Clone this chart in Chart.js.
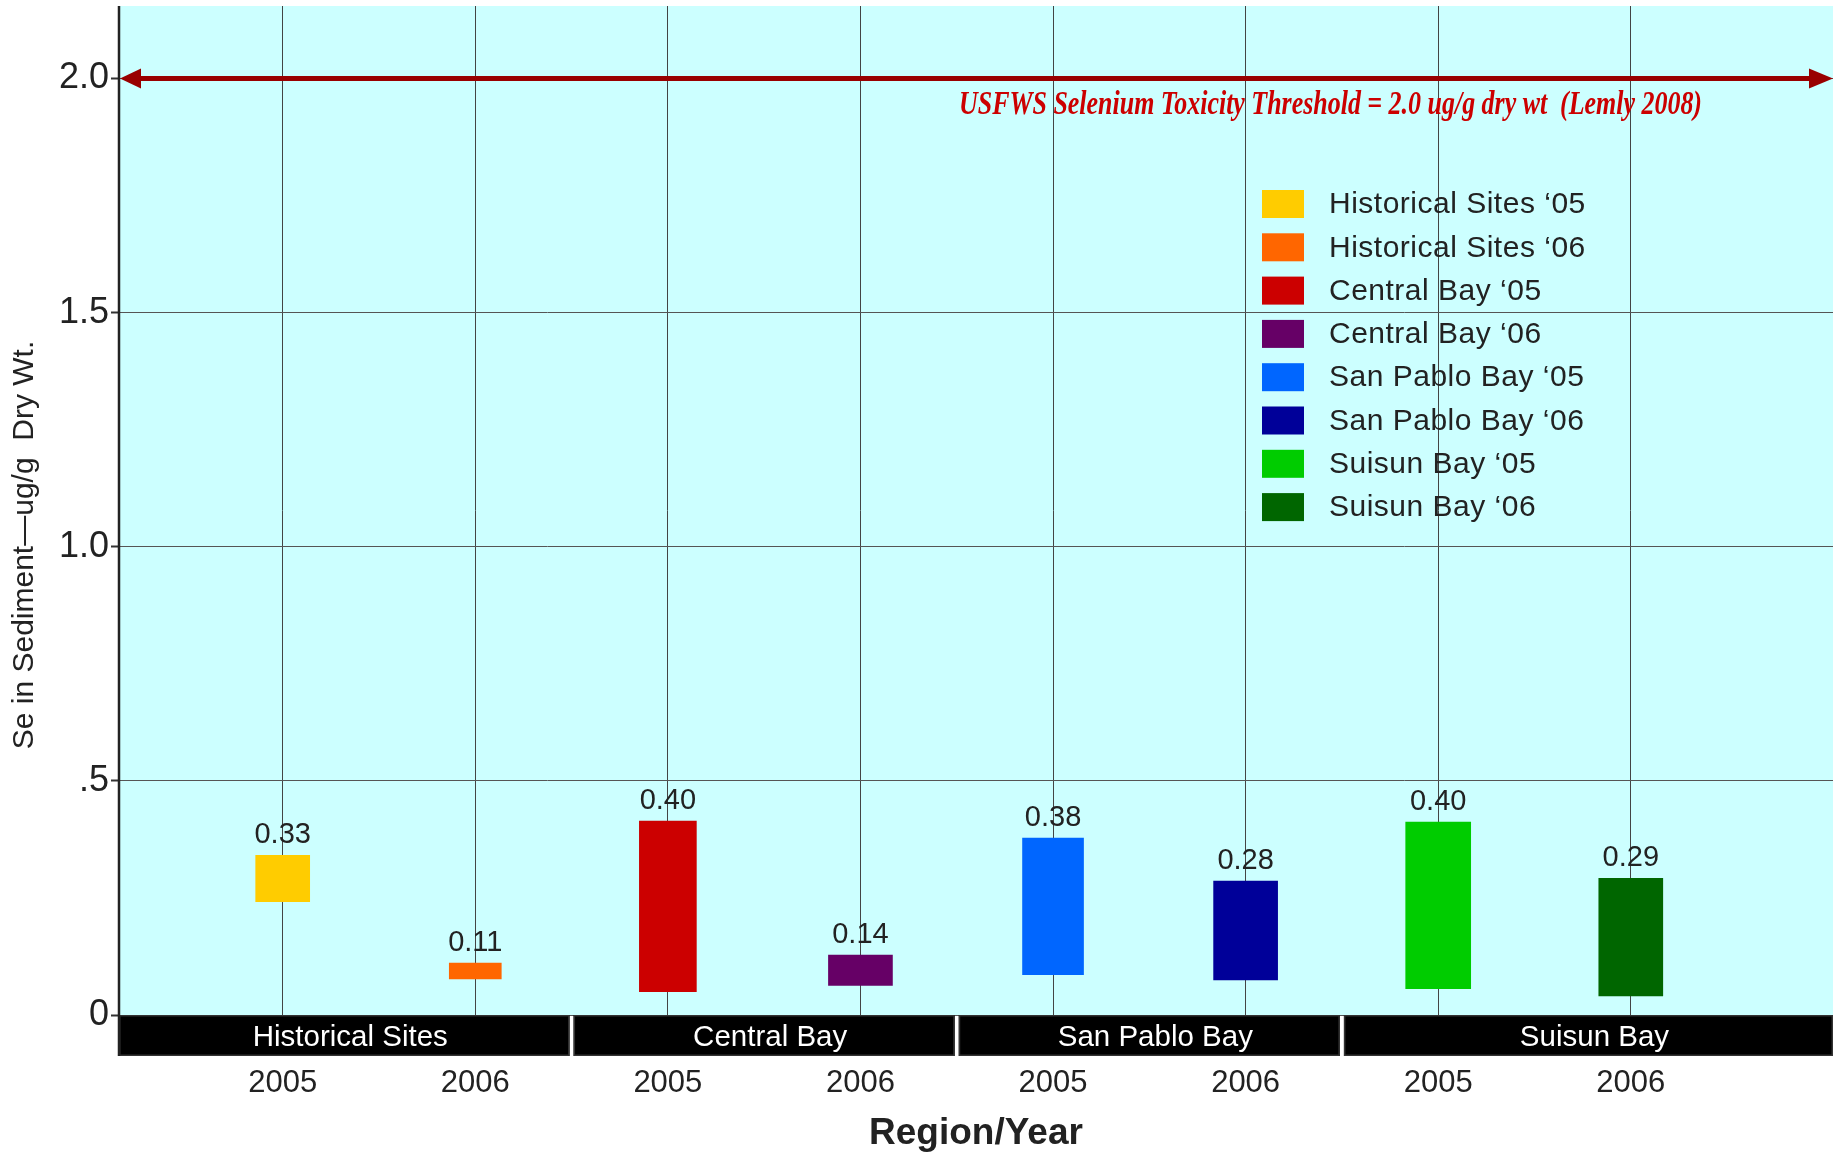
<!DOCTYPE html>
<html>
<head>
<meta charset="utf-8">
<title>Se in Sediment by Region/Year</title>
<script src="https://cdn.jsdelivr.net/npm/chart.js@4.4.1/dist/chart.umd.min.js"></script>
<style>
  html, body { margin: 0; padding: 0; background: #fff; }
</style>
</head>
<body>
<canvas id="seChart" width="1839" height="1152"></canvas>
<script>
// ---- data ----
const seriesNames = [
  "Historical Sites \u201805", "Historical Sites \u201806",
  "Central Bay \u201805", "Central Bay \u201806",
  "San Pablo Bay \u201805", "San Pablo Bay \u201806",
  "Suisun Bay \u201805", "Suisun Bay \u201806"
];
const years = ["2005", "2006", "2005", "2006", "2005", "2006", "2005", "2006"];
const regions = ["Historical Sites", "Central Bay", "San Pablo Bay", "Suisun Bay"];
const xPos = [1, 2, 3, 4, 5, 6, 7, 8];
const regionBreaks = [2.5, 4.5, 6.5];
// floating bars: low / high end of each bar
const barLow = [0.242, 0.077, 0.050, 0.063, 0.086, 0.075, 0.056, 0.041];
const barHigh = [0.341, 0.111, 0.414, 0.128, 0.378, 0.286, 0.412, 0.292];
const valueLabels = ["0.33", "0.11", "0.40", "0.14", "0.38", "0.28", "0.40", "0.29"];
const yTicks = [0, 0.5, 1.0, 1.5, 2.0];
const yTickLabels = ["0", ".5", "1.0", "1.5", "2.0"];
const threshold = 2.0;
const thresholdText = "USFWS Selenium Toxicity Threshold = 2.0 ug/g dry wt  (Lemly 2008)";

// ---- style ----
const colors = ["#ffcc00", "#ff6600", "#cc0000", "#660066", "#0066ff", "#000099", "#00cc00", "#006600"];
const barWidths = [54, 52, 57, 64, 61, 64, 65, 64];
const SANS = "'Liberation Sans', Arial, Helvetica, sans-serif";
const SERIF = "'Liberation Serif', 'Times New Roman', serif";

Chart.defaults.font.family = SANS;
Chart.defaults.color = "#222";

// drop the label half-height padding chart.js reserves at the scale ends
function noEndPadding(s) {
  s.paddingTop = 0;
  s.paddingBottom = 0;
  s.paddingLeft = 0;
  s.paddingRight = 0;
}

const decor = {
  id: "decor",
  beforeDraw(chart) {
    const { ctx, chartArea: a } = chart;
    ctx.save();
    ctx.fillStyle = "#ccffff";
    ctx.fillRect(a.left, a.top, a.right - a.left, a.bottom - a.top);
    ctx.restore();
  },
  afterDatasetsDraw(chart) {
    const { ctx, chartArea: a, scales } = chart;
    ctx.save();

    // value labels above bars
    ctx.fillStyle = "#222";
    ctx.font = "29px " + SANS;
    ctx.textAlign = "center";
    ctx.textBaseline = "alphabetic";
    chart.data.datasets.forEach((ds, i) => {
      const bar = chart.getDatasetMeta(i).data[0];
      const top = Math.min(bar.y, bar.base);
      ctx.fillText(valueLabels[i], bar.x, top - 12);
    });

    // legend inside plot
    ctx.textAlign = "left";
    ctx.textBaseline = "middle";
    ctx.font = "30px " + SANS;
    ctx.letterSpacing = "0.5px";
    seriesNames.forEach((name, i) => {
      const cy = 204 + i * 43.3;
      ctx.fillStyle = colors[i];
      ctx.fillRect(1262, cy - 14, 42, 28);
      ctx.fillStyle = "#222";
      ctx.fillText(name, 1329, cy + 1);
    });
    ctx.letterSpacing = "0px";

    // threshold note
    const ty = scales.y.getPixelForValue(threshold) + 35;
    ctx.font = "italic bold 33px " + SERIF;
    ctx.fillStyle = "#cc0000";
    ctx.textBaseline = "alphabetic";
    const w = ctx.measureText(thresholdText).width;
    ctx.translate(959, ty);
    ctx.scale(743 / w, 1);
    ctx.fillText(thresholdText, 0, 0);
    ctx.restore();
  },
  afterDraw(chart) {
    const { ctx, chartArea: a, scales } = chart;
    const x = scales.x;
    ctx.save();

    // region band under the plot
    const bandTop = a.bottom;
    const bandH = 41;
    const edges = [a.left, ...regionBreaks.map(v => x.getPixelForValue(v)), a.right];
    ctx.font = "29.5px " + SANS;
    ctx.textAlign = "center";
    ctx.textBaseline = "middle";
    for (let i = 0; i < regions.length; i++) {
      const x0 = edges[i] + (i > 0 ? 2 : 0);
      const x1 = edges[i + 1] - (i < regions.length - 1 ? 2 : 0);
      ctx.fillStyle = "#000";
      ctx.fillRect(x0, bandTop, x1 - x0, bandH);
      ctx.strokeStyle = "#333";
      ctx.lineWidth = 1.5;
      ctx.strokeRect(x0 + 0.75, bandTop + 0.75, x1 - x0 - 1.5, bandH - 1.5);
      ctx.fillStyle = "#fff";
      ctx.fillText(regions[i], (x0 + x1) / 2 + 6, bandTop + bandH / 2 + 2);
    }

    // y axis line
    ctx.strokeStyle = "#222";
    ctx.lineWidth = 2.5;
    ctx.beginPath();
    ctx.moveTo(a.left, a.top);
    ctx.lineTo(a.left, bandTop + bandH);
    ctx.stroke();

    // threshold double arrow
    const ty = scales.y.getPixelForValue(threshold);
    ctx.strokeStyle = "#990000";
    ctx.fillStyle = "#990000";
    ctx.lineWidth = 5;
    ctx.beginPath();
    ctx.moveTo(a.left + 18, ty);
    ctx.lineTo(a.right - 20, ty);
    ctx.stroke();
    ctx.beginPath();
    ctx.moveTo(a.left + 1, ty);
    ctx.lineTo(a.left + 22, ty - 10);
    ctx.lineTo(a.left + 22, ty + 10);
    ctx.closePath();
    ctx.fill();
    ctx.beginPath();
    ctx.moveTo(a.right, ty);
    ctx.lineTo(a.right - 24, ty - 10);
    ctx.lineTo(a.right - 24, ty + 10);
    ctx.closePath();
    ctx.fill();

    // y axis title
    ctx.translate(33, 545);
    ctx.rotate(-Math.PI / 2);
    ctx.fillStyle = "#222";
    ctx.font = "30px " + SANS;
    ctx.textAlign = "center";
    ctx.textBaseline = "alphabetic";
    ctx.fillText("Se in Sediment\u2014ug/g  Dry Wt.", 0, 0);
    ctx.restore();
  }
};

new Chart(document.getElementById("seChart"), {
  type: "bar",
  data: {
    datasets: seriesNames.map((name, i) => ({
      label: name,
      data: [{ x: xPos[i], y: [barLow[i], barHigh[i]] }],
      backgroundColor: colors[i],
      borderWidth: 0,
      barThickness: barWidths[i],
      grouped: false,
    })),
  },
  options: {
    responsive: false,
    animation: false,
    layout: { padding: { top: 6, right: 6, left: 0, bottom: 0 } },
    plugins: {
      legend: { display: false },
      tooltip: { enabled: false },
    },
    scales: {
      x: {
        type: "linear",
        min: 0.15,
        max: 9.05,
        offset: false,
        z: 1,
        afterBuildTicks: (s) => { s.ticks = xPos.map(v => ({ value: v })); },
        afterFit: (s) => { s.height = 137; noEndPadding(s); },
        ticks: {
          callback: (v, i) => years[i],
          font: { size: 31 },
          color: "#222",
          padding: 50,
          autoSkip: false,
          maxRotation: 0,
        },
        grid: { color: "#444", lineWidth: 1, drawTicks: false, offset: false },
        border: { display: false },
        title: {
          display: true,
          text: "Region/Year",
          font: { size: 37, weight: "bold", lineHeight: 1 },
          color: "#222",
          padding: { top: 0, bottom: 0 },
        },
      },
      y: {
        min: 0,
        max: 2.155,
        z: 1,
        afterBuildTicks: (s) => { s.ticks = yTicks.map(v => ({ value: v })); },
        afterFit: (s) => { s.width = 119; noEndPadding(s); },
        ticks: {
          callback: (v, i) => yTickLabels[i],
          font: { size: 36 },
          color: "#222",
          padding: 2,
        },
        grid: { color: "#555", lineWidth: 1, tickLength: 8, tickColor: "#333", tickWidth: 2 },
        border: { display: false },
      },
    },
  },
  plugins: [decor],
});
</script>
</body>
</html>
